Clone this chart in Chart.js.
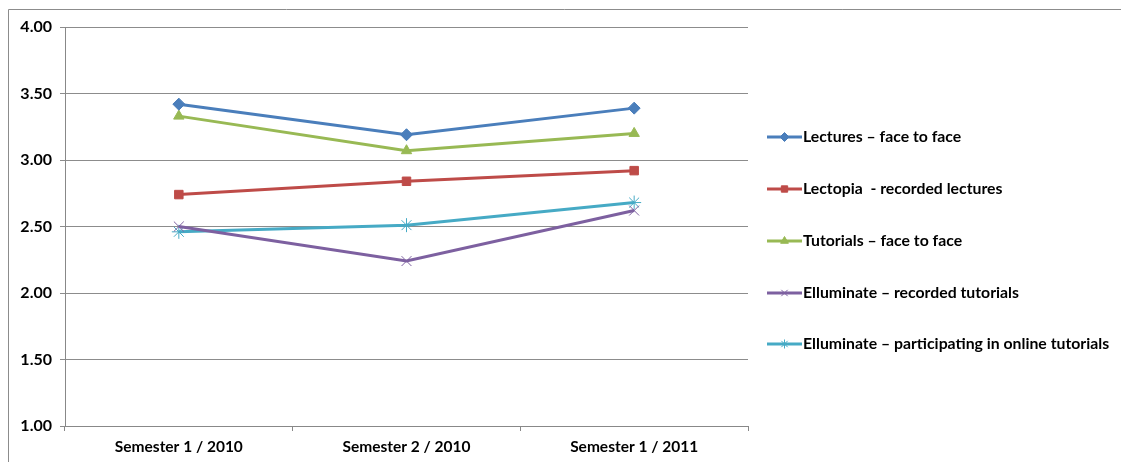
<!DOCTYPE html>
<html>
<head>
<meta charset="utf-8">
<script src="https://cdn.jsdelivr.net/npm/chart.js@4/dist/chart.umd.min.js"></script>
<style>
  html, body { margin: 0; padding: 0; background: #fff; }
  #wrap { width: 1121px; height: 462px; }
</style>
</head>
<body>
<div id="wrap"><canvas id="chart" width="1121" height="462"></canvas></div>
<script>
const semesters = ['Semester 1 / 2010', 'Semester 2 / 2010', 'Semester 1 / 2011'];

const lecturesF2F = [3.42, 3.19, 3.39];
const lectopia = [2.74, 2.84, 2.92];
const tutorialsF2F = [3.33, 3.07, 3.20];
const elluminateRecorded = [2.50, 2.24, 2.62];
const elluminateOnline = [2.46, 2.51, 2.68];

const seriesNames = [
    'Lectures \u2013 face to face',
    'Lectopia  - recorded lectures',
    'Tutorials \u2013 face to face',
    'Elluminate \u2013 recorded tutorials',
    'Elluminate \u2013 participating in online tutorials'
];

const fontFamily = 'Lato, "Open Sans", sans-serif';

function series(label, data, color, pointStyle, radius) {
    return {
        label: label,
        data: data,
        borderColor: color,
        backgroundColor: color,
        borderWidth: 3,
        pointStyle: pointStyle,
        pointRadius: radius,
        pointBorderWidth: 1,
        pointHoverRadius: radius,
        tension: 0,
        fill: false
    };
}

const datasets = [
    series(seriesNames[0], lecturesF2F, '#4a7ebb', 'rectRot', 6),
    series(seriesNames[1], lectopia, '#be4b48', 'rect', 6),
    series(seriesNames[2], tutorialsF2F, '#98b954', 'triangle', 6),
    series(seriesNames[3], elluminateRecorded, '#7d60a0', 'crossRot', 7),
    series(seriesNames[4], elluminateOnline, '#46aac5', 'star', 7)
];

// legend drawn by hand: line with marker, then the label
const sideLegend = {
    id: 'sideLegend',
    afterDraw(chart) {
        const c = chart.ctx;
        c.save();
        // outer frame (top and left only visible)
        c.strokeStyle = '#8c8c8c';
        c.lineWidth = 1;
        c.beginPath();
        c.moveTo(8.5, 470);
        c.lineTo(8.5, 9.5);
        c.lineTo(1121, 9.5);
        c.stroke();

        const x0 = 767, x1 = 802, ys = [137, 189, 241, 293, 344];
        chart.data.datasets.forEach((ds, i) => {
            const y = ys[i];
            c.strokeStyle = ds.borderColor;
            c.lineWidth = 3;
            c.beginPath();
            c.moveTo(x0, y);
            c.lineTo(x1, y);
            c.stroke();
            c.fillStyle = ds.borderColor;
            c.lineWidth = 1;
            Chart.helpers.drawPoint(c, {
                pointStyle: ds.pointStyle,
                radius: 4.5,
                rotation: 0,
                borderWidth: 1
            }, (x0 + x1) / 2, y);
            c.fillStyle = '#000';
            c.font = 'bold 15.8px ' + fontFamily;
            c.textBaseline = 'middle';
            c.textAlign = 'left';
            c.fillText(ds.label, x1 + 1, y);
        });
        c.restore();
    }
};

new Chart(document.getElementById('chart'), {
    type: 'line',
    data: { labels: semesters, datasets: datasets },
    plugins: [sideLegend],
    options: {
        responsive: false,
        animation: false,
        layout: { padding: { left: 0, right: 373, top: 27, bottom: 0 } },
        plugins: {
            legend: { display: false },
            tooltip: { enabled: false }
        },
        scales: {
            x: {
                offset: true,
                grid: { offset: true, drawOnChartArea: false, color: '#888', tickLength: 5 },
                border: { color: '#888', width: 1 },
                ticks: { color: '#000', font: { family: fontFamily, size: 15.5, weight: 'bold' }, padding: 7 },
                afterFit(scale) { scale.height = 36; }
            },
            y: {
                min: 1,
                max: 4,
                ticks: {
                    stepSize: 0.5,
                    color: '#000',
                    font: { family: fontFamily, size: 16, weight: 'bold' },
                    padding: 8,
                    callback: v => v.toFixed(2)
                },
                grid: { color: '#8c8c8c', tickLength: 5 },
                border: { color: '#888', width: 1 },
                afterFit(scale) { scale.width = 65; }
            }
        }
    }
});
</script>
</body>
</html>
